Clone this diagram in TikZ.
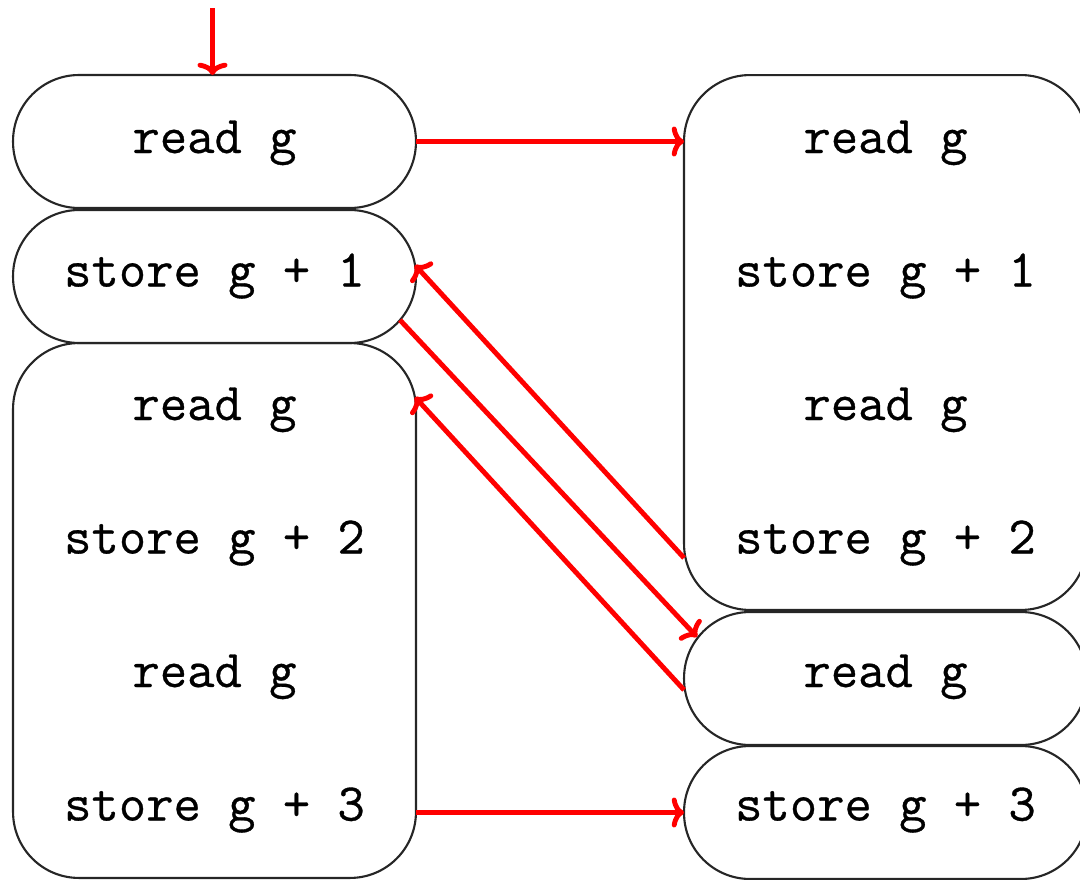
\documentclass[tikz,border=0pt]{standalone}
\usepackage{fontspec}
\newfontfamily\codefont[FakeBold=0.6]{Latin Modern Mono}
\usetikzlibrary{calc,arrows.meta}
\begin{document}
\begin{tikzpicture}[x=0.02cm,y=-0.02cm,
  box/.style={draw=black!85,line width=1.2pt,rounded corners=1.32cm,
    minimum width=8.06cm,inner sep=0pt,outer sep=0pt},
  slot/.style={box,minimum height=2.66cm},
  code/.style={font=\fontsize{30.2}{36}\selectfont\codefont,anchor=base,inner sep=0pt},
  flow/.style={draw=red,line width=2.8pt,-{To[length=7pt,width=17pt]}}]
  \useasboundingbox (0,0) rectangle (1080,880);

  % left thread
  \node[slot] (L1) at (214.5,141.5) {};
  \node[slot] (L2) at (214.5,276.5) {};
  \node[box,minimum height=10.7cm] (L3) at (214.5,610.5) {};
  \node[code] (l1) at (214.5,153) {read g};
  \node[code] (l2) at (214.5,286.5) {store g + 1};
  \node[code] (l3) at (214.5,420) {read g};
  \node[code] (l4) at (214.5,553.5) {store g + 2};
  \node[code] (l5) at (214.5,687) {read g};
  \node[code] (l6) at (214.5,820.5) {store g + 3};

  % right thread
  \node[box,minimum height=10.7cm] (R1) at (885.5,342.5) {};
  \node[slot] (R2) at (885.5,678.5) {};
  \node[slot] (R3) at (885.5,812.5) {};
  \node[code] (r1) at (885.5,153) {read g};
  \node[code] (r2) at (885.5,286.5) {store g + 1};
  \node[code] (r3) at (885.5,420) {read g};
  \node[code] (r4) at (885.5,553.5) {store g + 2};
  \node[code] (r5) at (885.5,687) {read g};
  \node[code] (r6) at (885.5,820.5) {store g + 3};

  % control flow
  \coordinate (entry) at ($(L1.north)+(-2,-67)$);
  \draw[flow] (entry) -- ($(L1.north)+(-2,0)$);
  \draw[flow] (L1.east) -- (L1.east -| R1.west);
  \draw[flow] ($(R1.south west)+(0,-52)$) -- ($(L2.east)+(-1,-11.5)$);
  \draw[flow] ($(L2.east)+(-16,43.5)$) -- ($(R2.west)+(13,-41.5)$);
  \draw[flow] ($(R2.west)+(0,11.5)$) -- ($(L3.north east)+(-1,54)$);
  \draw[flow] (R3.west -| L3.east) -- (R3.west);
\end{tikzpicture}
\end{document}
